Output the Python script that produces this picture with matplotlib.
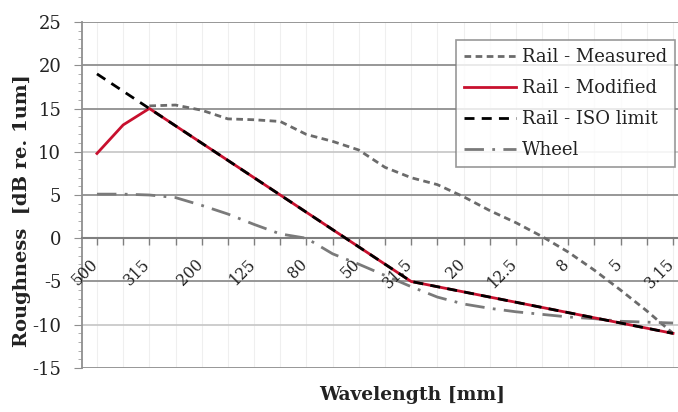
import matplotlib
matplotlib.use("Agg")
import matplotlib.pyplot as plt
import numpy as np

plt.rcParams['font.family'] = ['DejaVu Serif']
plt.rcParams['axes.unicode_minus'] = False

wavelengths = ["500", "400", "315", "250", "200", "160", "125", "100", "80", "63",
               "50", "40", "31.5", "25", "20", "16", "12.5", "10", "8", "6.3",
               "5", "4", "3.15"]
shown_labels = ["500", "315", "200", "125", "80", "50", "31.5", "20", "12.5",
                "8", "5", "3.15"]

rail_measured = [np.nan, np.nan, 15.3, 15.4, 14.8, 13.8, 13.7, 13.5, 12.0, 11.2,
                 10.2, 8.2, 7.0, 6.2, 4.8, 3.2, 1.8, 0.2, -1.6, -3.7,
                 -6.0, -8.4, -11.0]
rail_modified = [9.8, 13.1, 15.0, 13.0, 11.0, 9.0, 7.0, 5.0, 3.0, 1.0,
                 -1.0, -3.0, -5.0, -5.6, -6.2, -6.8, -7.4, -8.0, -8.6, -9.2,
                 -9.8, -10.4, -11.0]
rail_iso = [19.0, 17.0, 15.0, 13.0, 11.0, 9.0, 7.0, 5.0, 3.0, 1.0,
            -1.0, -3.0, -5.0, -5.6, -6.2, -6.8, -7.4, -8.0, -8.6, -9.2,
            -9.8, -10.4, -11.0]
wheel = [5.1, 5.1, 5.0, 4.7, 3.8, 2.8, 1.6, 0.5, 0.0, -1.8,
         -3.0, -4.3, -5.6, -6.8, -7.6, -8.1, -8.5, -8.8, -9.1, -9.3,
         -9.6, -9.7, -9.8]

x = np.arange(len(wavelengths))

fig = plt.figure(figsize=(6.78, 4.12), dpi=100)
ax = fig.add_axes([0.121, 0.1068, 0.879, 0.8398])

# faint vertical guides at each category
for xi in x:
    ax.axvline(xi, color='#efefef', lw=0.8, zorder=0)

# horizontal gridlines
for yv in range(-15, 30, 5):
    if yv == 0:
        continue
    col = '#c9c9c9' if abs(yv) == 10 else '#8f8f8f'
    ax.axhline(yv, color=col, lw=1.3, zorder=1)

ax.plot(x, rail_measured, color='#6b6b6b', lw=2, ls=(0, (2.4, 1.6)),
        label='Rail - Measured', zorder=3)
ax.plot(x, rail_modified, color='#c8102e', lw=2, ls='-',
        label='Rail - Modified', zorder=4)
ax.plot(x, rail_iso, color='black', lw=2, ls=(0, (3.6, 2.6)),
        label='Rail - ISO limit', zorder=5)
ax.plot(x, wheel, color='#7a7a7a', lw=2, ls=(0, (7, 3, 1, 3)),
        label='Wheel', zorder=3)

ax.set_xlim(-0.57, 22.19)
ax.set_ylim(-15, 25)

ax.spines['top'].set_visible(False)
ax.spines['right'].set_visible(False)
ax.spines['left'].set_color('#8f8f8f')
ax.spines['left'].set_linewidth(1.3)
ax.spines['bottom'].set_position(('data', 0))
ax.spines['bottom'].set_color('#7f7f7f')
ax.spines['bottom'].set_linewidth(1.5)

ax.set_xticks(x)
ax.set_xticklabels([])
ax.tick_params(axis='x', direction='out', length=5, color='#7f7f7f', width=1)

ax.set_yticks(range(-15, 30, 5))
ax.set_yticks(range(-15, 26), minor=True)
ax.tick_params(axis='y', which='major', direction='out', length=6,
               color='#8f8f8f', labelsize=13, pad=9, labelcolor='#222222')
ax.tick_params(axis='y', which='minor', direction='out', length=3,
               color='#a0a0a0')

for lab in shown_labels:
    i = wavelengths.index(lab)
    ax.text(i - 0.28, -2.0, lab, rotation=45, rotation_mode='anchor',
            ha='right', va='top', fontsize=11.2, color='#222222')

fig.text(0.032, 0.49, 'Roughness  [dB re. 1um]', fontsize=14,
         fontweight='bold', rotation=90, ha='center', va='center',
         color='#222222')
fig.text(0.608, 0.041, 'Wavelength [mm]', fontsize=13.5, fontweight='bold',
         ha='center', va='center', color='#222222')

leg = ax.legend(loc='upper right', bbox_to_anchor=(0.995, 0.948),
                fontsize=13, frameon=True, fancybox=False, handlelength=2.9,
                handletextpad=0.3, borderpad=0.45, labelspacing=0.72,
                borderaxespad=0)
leg.get_frame().set_edgecolor('#7f7f7f')
leg.get_frame().set_linewidth(1.2)
for t in leg.get_texts():
    t.set_color('#222222')

fig.savefig('out.png', dpi=100)
